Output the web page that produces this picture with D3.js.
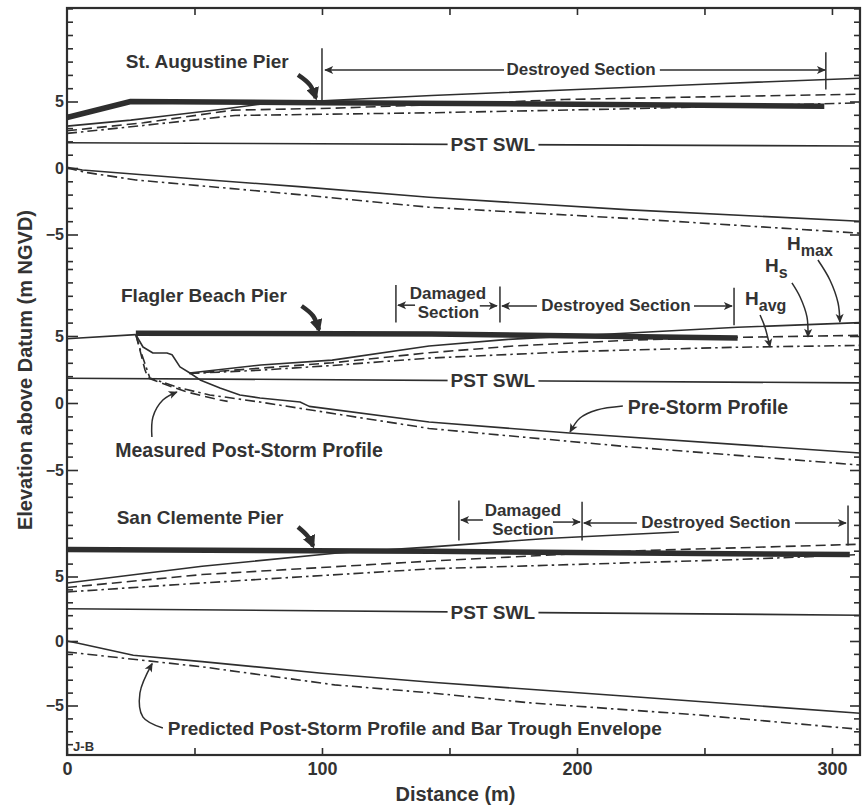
<!DOCTYPE html>
<html>
<head>
<meta charset="utf-8">
<script src="https://cdn.jsdelivr.net/npm/d3@7"></script>
<style>
  body { margin: 0; background: #fff; }
  svg text { font-family: "Liberation Sans", Arial, sans-serif; font-weight: bold; fill: #333; }
</style>
</head>
<body>
<div id="chart"></div>
<script>
// ---- data: [distance m, elevation m NGVD] ----
// St. Augustine Pier
const saPier = [[0, 3.8], [25, 5.0], [100, 4.9], [200, 4.8], [297, 4.65]];
const saHmax = [[0, 3.15], [25, 3.6], [40, 3.95], [60, 4.4], [78, 4.85], [143, 5.45], [200, 5.9], [250, 6.3], [311, 6.75]];
const saHs = [[0, 2.8], [30, 3.4], [65, 4.35], [105, 4.5], [150, 4.8], [195, 5.15], [250, 5.35], [311, 5.55]];
const saHavg = [[0, 2.6], [30, 3.2], [66, 3.95], [142, 4.15], [220, 4.45], [311, 4.9]];
const saSwl = [[0, 1.9], [311, 1.65]];
const saPre = [[0, 0.05], [6, -0.15], [52, -0.85], [91, -1.4], [142, -2.2], [221, -3.15], [311, -4.0]];
const saPost = [[0, 0], [8, -0.35], [27, -0.9], [91, -2.0], [142, -2.95], [221, -3.8], [311, -4.9]];

// Flagler Beach Pier
const fbPier = [[27, 5.2], [143, 5.15], [263, 4.85]];
const fbUpland = [[0, 4.8], [27, 5.1]];
const fbHmax = [[48, 2.24], [76, 2.84], [104, 3.2], [142, 4.25], [173, 4.75], [228, 5.3], [263, 5.65], [311, 6.0]];
const fbHs = [[48, 2.2], [76, 2.6], [104, 3.0], [142, 3.75], [175, 4.25], [222, 4.7], [263, 4.9], [311, 5.05]];
const fbHavg = [[48, 2.2], [76, 2.45], [104, 2.8], [142, 3.35], [200, 3.85], [260, 4.15], [311, 4.3]];
const fbSwl = [[0, 1.85], [311, 1.5]];
const fbPre = [[27, 5.1], [27.5, 4.93], [29.8, 4.18], [33.7, 3.73], [39.2, 3.73], [41.2, 3.6], [44.3, 2.7], [48.2, 2.24],
  [52.2, 1.72], [60, 1.12], [67.8, 0.6], [75.7, 0.37], [91.4, 0.07], [95, -0.25], [142, -1.42], [197, -2.24], [311, -3.73]];
const fbMeasured = [[27, 5.1], [28.6, 3.96], [30.6, 2.46], [31.8, 1.87], [39.2, 1.34], [47, 0.82], [60, 0.22], [63, 0.12]];
const fbPredicted = [[27, 5.1], [29, 3.8], [32.5, 1.87], [44.3, 1.12], [56, 0.6], [75.7, 0.07], [142, -1.9], [221, -3.28], [311, -4.63]];

// San Clemente Pier
const scPier = [[0, 7.1], [143, 6.95], [307, 6.7]];
const scHmax = [[0, 4.5], [53, 5.8], [105, 6.8], [143, 7.3], [188, 7.95], [240, 8.45]];
const scHs = [[0, 4.15], [53, 5.15], [143, 6.2], [224, 7.0], [311, 7.5]];
const scHavg = [[0, 3.8], [53, 4.5], [143, 5.6], [261, 6.3], [311, 6.7]];
const scSwl = [[0, 2.5], [311, 2.0]];
const scPre = [[0, 0], [4, -0.15], [26, -1.1], [53, -1.6], [100, -2.5], [143, -3.2], [221, -4.3], [311, -5.6]];
const scPost = [[0, -0.85], [53, -2.0], [105, -3.4], [143, -4.03], [182, -4.8], [248, -5.74], [311, -6.85]];

// section markers: [distance, top elev, bottom elev]
const saBars = [[100, 9.0, 5.1], [297.6, 8.7, 5.9]];
const fbBars = [[129, 8.8, 6.0], [169.8, 8.7, 6.0], [261.6, 8.6, 5.8]];
const scBars = [[153.7, 10.9, 7.8], [202, 10.8, 7.8], [306.3, 10.5, 7.4]];
// span arrows: [from distance, to distance, elev]
const saSpans = [[171.4, 101.2, 7.37], [232.5, 297.3, 7.37]];
const fbSpans = [[136.5, 129.8, 7.3], [161.9, 168.6, 7.25], [184.3, 170.6, 7.24], [245.9, 260.8, 7.24]];
const scSpans = [[163.1, 154.5, 9.38], [190.6, 201.2, 9.22], [223.5, 202.7, 9.15], [285.5, 305.5, 9.15]];
// span labels: [text, distance, elev]
const saSpanText = [["Destroyed Section", 201.6, 7.37]];
const fbSpanText = [["Damaged", 149.4, 8.2], ["Section", 149.6, 6.75], ["Destroyed Section", 215.3, 7.24]];
const scSpanText = [["Damaged", 178.8, 10.15], ["Section", 178.8, 8.68], ["Destroyed Section", 254.5, 9.15]];

const pierNames = ["St. Augustine Pier", "Flagler Beach Pier", "San Clemente Pier"];
const pierLabelAt = [[55, 7.97], [53.7, 7.99], [52.2, 9.6]];
const pierArrows = [
  [[90.6, 7.0], [95.3, 6.24], [97.6, 5.26]],
  [[92.0, 7.24], [96.5, 6.5], [98.8, 5.45]],
  [[90.6, 8.84], [94.5, 8.1], [96.5, 7.35]]
];
const swlLabelX = [167, 167, 167];

// Flagler call-outs
const heightLabels = [["H", "max", 282.4, 11.94], ["H", "s", 273.7, 10.3], ["H", "avg", 265.9, 7.84]];
const heightArrows = [
  [[294.5, 10.67], [299.2, 9.18], [302.4, 7.46], [303.1, 6.04]],
  [[284.3, 8.96], [287.5, 7.91], [290.2, 6.42], [290.6, 4.93]],
  [[271.8, 6.57], [273.7, 5.67], [275.7, 4.18]]
];
const profileLabels = [["Pre-Storm Profile", 251.4, -0.3], ["Measured Post-Storm Profile", 71.4, -3.5]];
const profileArrows = [
  [[218, -0.22], [207.8, -0.52], [201.2, -1.12], [197.3, -2.16]],
  [[33.3, -2.54], [33.7, -1.04], [37.6, 0.22], [43.1, 0.82]]
];
// San Clemente call-out
const predictedLabel = ["Predicted Post-Storm Profile and Bar Trough Envelope", 39.5, -6.82];
const predictedArrow = [[37.6, -6.75], [29.8, -5.9], [28.6, -4.03], [33.4, -1.75]];

const xTicks = [50, 100, 150, 200, 250, 300];
const xLabels = [0, 100, 200, 300];
const yLabels = [-5, 0, 5];

// ---- layout ----
const W = 862, H = 805;
const frame = { left: 67, right: 860, top: 8, bottom: 755 };
const ink = '#2e2e2e';

const x = d3.scaleLinear().domain([0, 311]).range([frame.left, frame.right]);
const yA = d3.scaleLinear().domain([-5, 5]).range([234.5, 101.5]);
const yB = d3.scaleLinear().domain([-5, 5]).range([470, 336]);
const yC = d3.scaleLinear().domain([-5, 5]).range([705.5, 576.5]);

const svg = d3.select('#chart').append('svg').attr('width', W).attr('height', H);

svg.append('defs').html(`
  <marker id="ah" viewBox="0 0 10 10" refX="9" refY="5" markerUnits="userSpaceOnUse" markerWidth="12" markerHeight="9" orient="auto-start-reverse">
    <path d="M0,0.5 L10,5 L0,9.5 L2.5,5 z" fill="${ink}"/></marker>
  <marker id="ahBig" viewBox="0 0 10 10" refX="8" refY="5" markerUnits="userSpaceOnUse" markerWidth="13" markerHeight="13" orient="auto">
    <path d="M0,0 L10,5 L0,10 z" fill="${ink}"/></marker>`);

const styles = {
  pier: { w: 5.5, dash: null },
  solid: { w: 1.6, dash: null },
  dash: { w: 1.6, dash: '10,5' },
  dashdot: { w: 1.6, dash: '10,4,2.5,4' }
};

const panels = [
  { y: yA, ticks: d3.range(-7, 13), swl: saSwl, bars: saBars, spans: saSpans, texts: saSpanText,
    series: [[saSwl, 'solid'], [saPre, 'solid'], [saPost, 'dashdot'], [saHavg, 'dashdot'], [saHs, 'dash'], [saHmax, 'solid'], [saPier, 'pier']] },
  { y: yB, ticks: d3.range(-7, 11), swl: fbSwl, bars: fbBars, spans: fbSpans, texts: fbSpanText,
    series: [[fbSwl, 'solid'], [fbUpland, 'solid'], [fbPre, 'solid'], [fbMeasured, 'dash'], [fbPredicted, 'dashdot'], [fbHavg, 'dashdot'], [fbHs, 'dash'], [fbHmax, 'solid'], [fbPier, 'pier']] },
  { y: yC, ticks: d3.range(-8, 11), swl: scSwl, bars: scBars, spans: scSpans, texts: scSpanText,
    series: [[scSwl, 'solid'], [scPre, 'solid'], [scPost, 'dashdot'], [scHavg, 'dashdot'], [scHs, 'dash'], [scHmax, 'solid'], [scPier, 'pier']] }
];

const curve = (y, pts) => d3.line().x(d => x(d[0])).y(d => y(d[1])).curve(d3.curveCatmullRom.alpha(0.5))(pts);

// ---- axes ----
panels.forEach(p => {
  const minor = p.ticks.filter(t => !yLabels.includes(t));
  svg.append('g').attr('transform', `translate(${frame.left},0)`)
    .call(d3.axisLeft(p.y).tickValues(minor).tickSizeInner(-6).tickSizeOuter(0).tickFormat(''))
    .call(g => g.select('.domain').remove());
  svg.append('g').attr('transform', `translate(${frame.left},0)`)
    .call(d3.axisLeft(p.y).tickValues(yLabels).tickSizeInner(-11).tickSizeOuter(0).tickPadding(3))
    .call(g => g.select('.domain').remove())
    .call(g => g.selectAll('text').attr('font-size', 16).attr('fill', '#333').attr('text-anchor', 'end').attr('x', -3));
  svg.append('g').attr('transform', `translate(${frame.right},0)`)
    .call(d3.axisRight(p.y).tickValues(p.ticks).tickSizeInner(-6).tickSizeOuter(0).tickFormat(''))
    .call(g => g.select('.domain').remove())
    .call(g => g.selectAll('line').filter(d => yLabels.includes(d)).attr('x2', -10));
});

svg.append('g').attr('transform', `translate(0,${frame.bottom})`)
  .call(d3.axisBottom(x).tickValues([0, ...xTicks]).tickSizeInner(-7).tickSizeOuter(0).tickPadding(7)
    .tickFormat(d => xLabels.includes(d) ? d : ''))
  .call(g => g.select('.domain').remove())
  .call(g => g.selectAll('text').attr('font-size', 18).attr('fill', '#333'));
svg.append('g').attr('transform', `translate(0,${frame.top})`)
  .call(d3.axisTop(x).tickValues(xTicks).tickSizeInner(-7).tickSizeOuter(0).tickFormat(''))
  .call(g => g.select('.domain').remove());
svg.selectAll('.tick line').attr('stroke', ink).attr('stroke-width', 1.6);

svg.append('rect')
  .attr('x', frame.left).attr('y', frame.top)
  .attr('width', frame.right - frame.left).attr('height', frame.bottom - frame.top)
  .attr('fill', 'none').attr('stroke', ink).attr('stroke-width', 2.2);

svg.append('text').attr('x', (x(0) + x(311)) / 2 - 8).attr('y', 801)
  .attr('text-anchor', 'middle').attr('font-size', 20).text('Distance (m)');
svg.append('text').attr('transform', 'translate(32,370) rotate(-90)')
  .attr('text-anchor', 'middle').attr('font-size', 20).text('Elevation above Datum (m NGVD)');

// ---- profiles ----
panels.forEach((p, i) => {
  const g = svg.append('g');
  const line = d3.line().x(d => x(d[0])).y(d => p.y(d[1]));
  p.series.forEach(([data, kind]) => {
    g.append('path').attr('d', line(data))
      .attr('fill', 'none').attr('stroke', ink)
      .attr('stroke-width', styles[kind].w)
      .attr('stroke-dasharray', styles[kind].dash)
      .attr('stroke-linejoin', 'round');
  });

  // section bars and span arrows
  g.selectAll('.bar').data(p.bars).join('line')
    .attr('x1', d => x(d[0])).attr('x2', d => x(d[0]))
    .attr('y1', d => p.y(d[1])).attr('y2', d => p.y(d[2]))
    .attr('stroke', ink).attr('stroke-width', 1.5);
  g.selectAll('.span').data(p.spans).join('line')
    .attr('x1', d => x(d[0])).attr('x2', d => x(d[1]))
    .attr('y1', d => p.y(d[2])).attr('y2', d => p.y(d[2]))
    .attr('stroke', ink).attr('stroke-width', 1.5).attr('marker-end', 'url(#ah)');
  g.selectAll('.spantext').data(p.texts).join('text')
    .attr('x', d => x(d[1])).attr('y', d => p.y(d[2]))
    .attr('text-anchor', 'middle').attr('dominant-baseline', 'central')
    .attr('font-size', 17).text(d => d[0]);

  // PST SWL label sitting in a gap of the water line
  const swlY = d3.scaleLinear().domain([p.swl[0][0], p.swl[1][0]]).range([p.swl[0][1], p.swl[1][1]]);
  const swl = g.append('text').attr('x', x(swlLabelX[i])).attr('y', p.y(swlY(swlLabelX[i])))
    .attr('text-anchor', 'middle').attr('dominant-baseline', 'central')
    .attr('font-size', 19).text('PST SWL');
  const bb = swl.node().getBBox();
  g.insert('rect', () => swl.node())
    .attr('x', bb.x - 3).attr('y', bb.y + 2).attr('width', bb.width + 6).attr('height', bb.height - 4)
    .attr('fill', '#fff');

  // pier name and its thick arrow
  g.append('text').attr('x', x(pierLabelAt[i][0])).attr('y', p.y(pierLabelAt[i][1]))
    .attr('text-anchor', 'middle').attr('dominant-baseline', 'central')
    .attr('font-size', 19).text(pierNames[i]);
  g.append('path').attr('d', curve(p.y, pierArrows[i]))
    .attr('fill', 'none').attr('stroke', ink).attr('stroke-width', 4.5)
    .attr('marker-end', 'url(#ahBig)');
});

// ---- Flagler call-outs ----
const gB = svg.append('g');
heightLabels.forEach(([h, sub, d, e]) => {
  const t = gB.append('text').attr('x', x(d)).attr('y', yB(e))
    .attr('dominant-baseline', 'central').attr('font-size', 19);
  t.append('tspan').text(h);
  t.append('tspan').attr('dy', 7).attr('font-size', 16).text(sub);
});
heightArrows.concat(profileArrows).forEach(pts => {
  gB.append('path').attr('d', curve(yB, pts))
    .attr('fill', 'none').attr('stroke', ink).attr('stroke-width', 1.5)
    .attr('marker-end', 'url(#ah)');
});
profileLabels.forEach(([txt, d, e]) => {
  gB.append('text').attr('x', x(d)).attr('y', yB(e))
    .attr('text-anchor', 'middle').attr('dominant-baseline', 'central')
    .attr('font-size', 19.5).text(txt);
});

// ---- San Clemente call-out ----
svg.append('text').attr('x', x(predictedLabel[1])).attr('y', yC(predictedLabel[2]))
  .attr('dominant-baseline', 'central').attr('font-size', 19).text(predictedLabel[0]);
svg.append('path').attr('d', curve(yC, predictedArrow))
  .attr('fill', 'none').attr('stroke', ink).attr('stroke-width', 1.5)
  .attr('marker-end', 'url(#ah)');
svg.append('text').attr('x', x(2.4)).attr('y', yC(-8.2))
  .attr('dominant-baseline', 'central').attr('font-size', 13).text('J-B');
</script>
</body>
</html>
